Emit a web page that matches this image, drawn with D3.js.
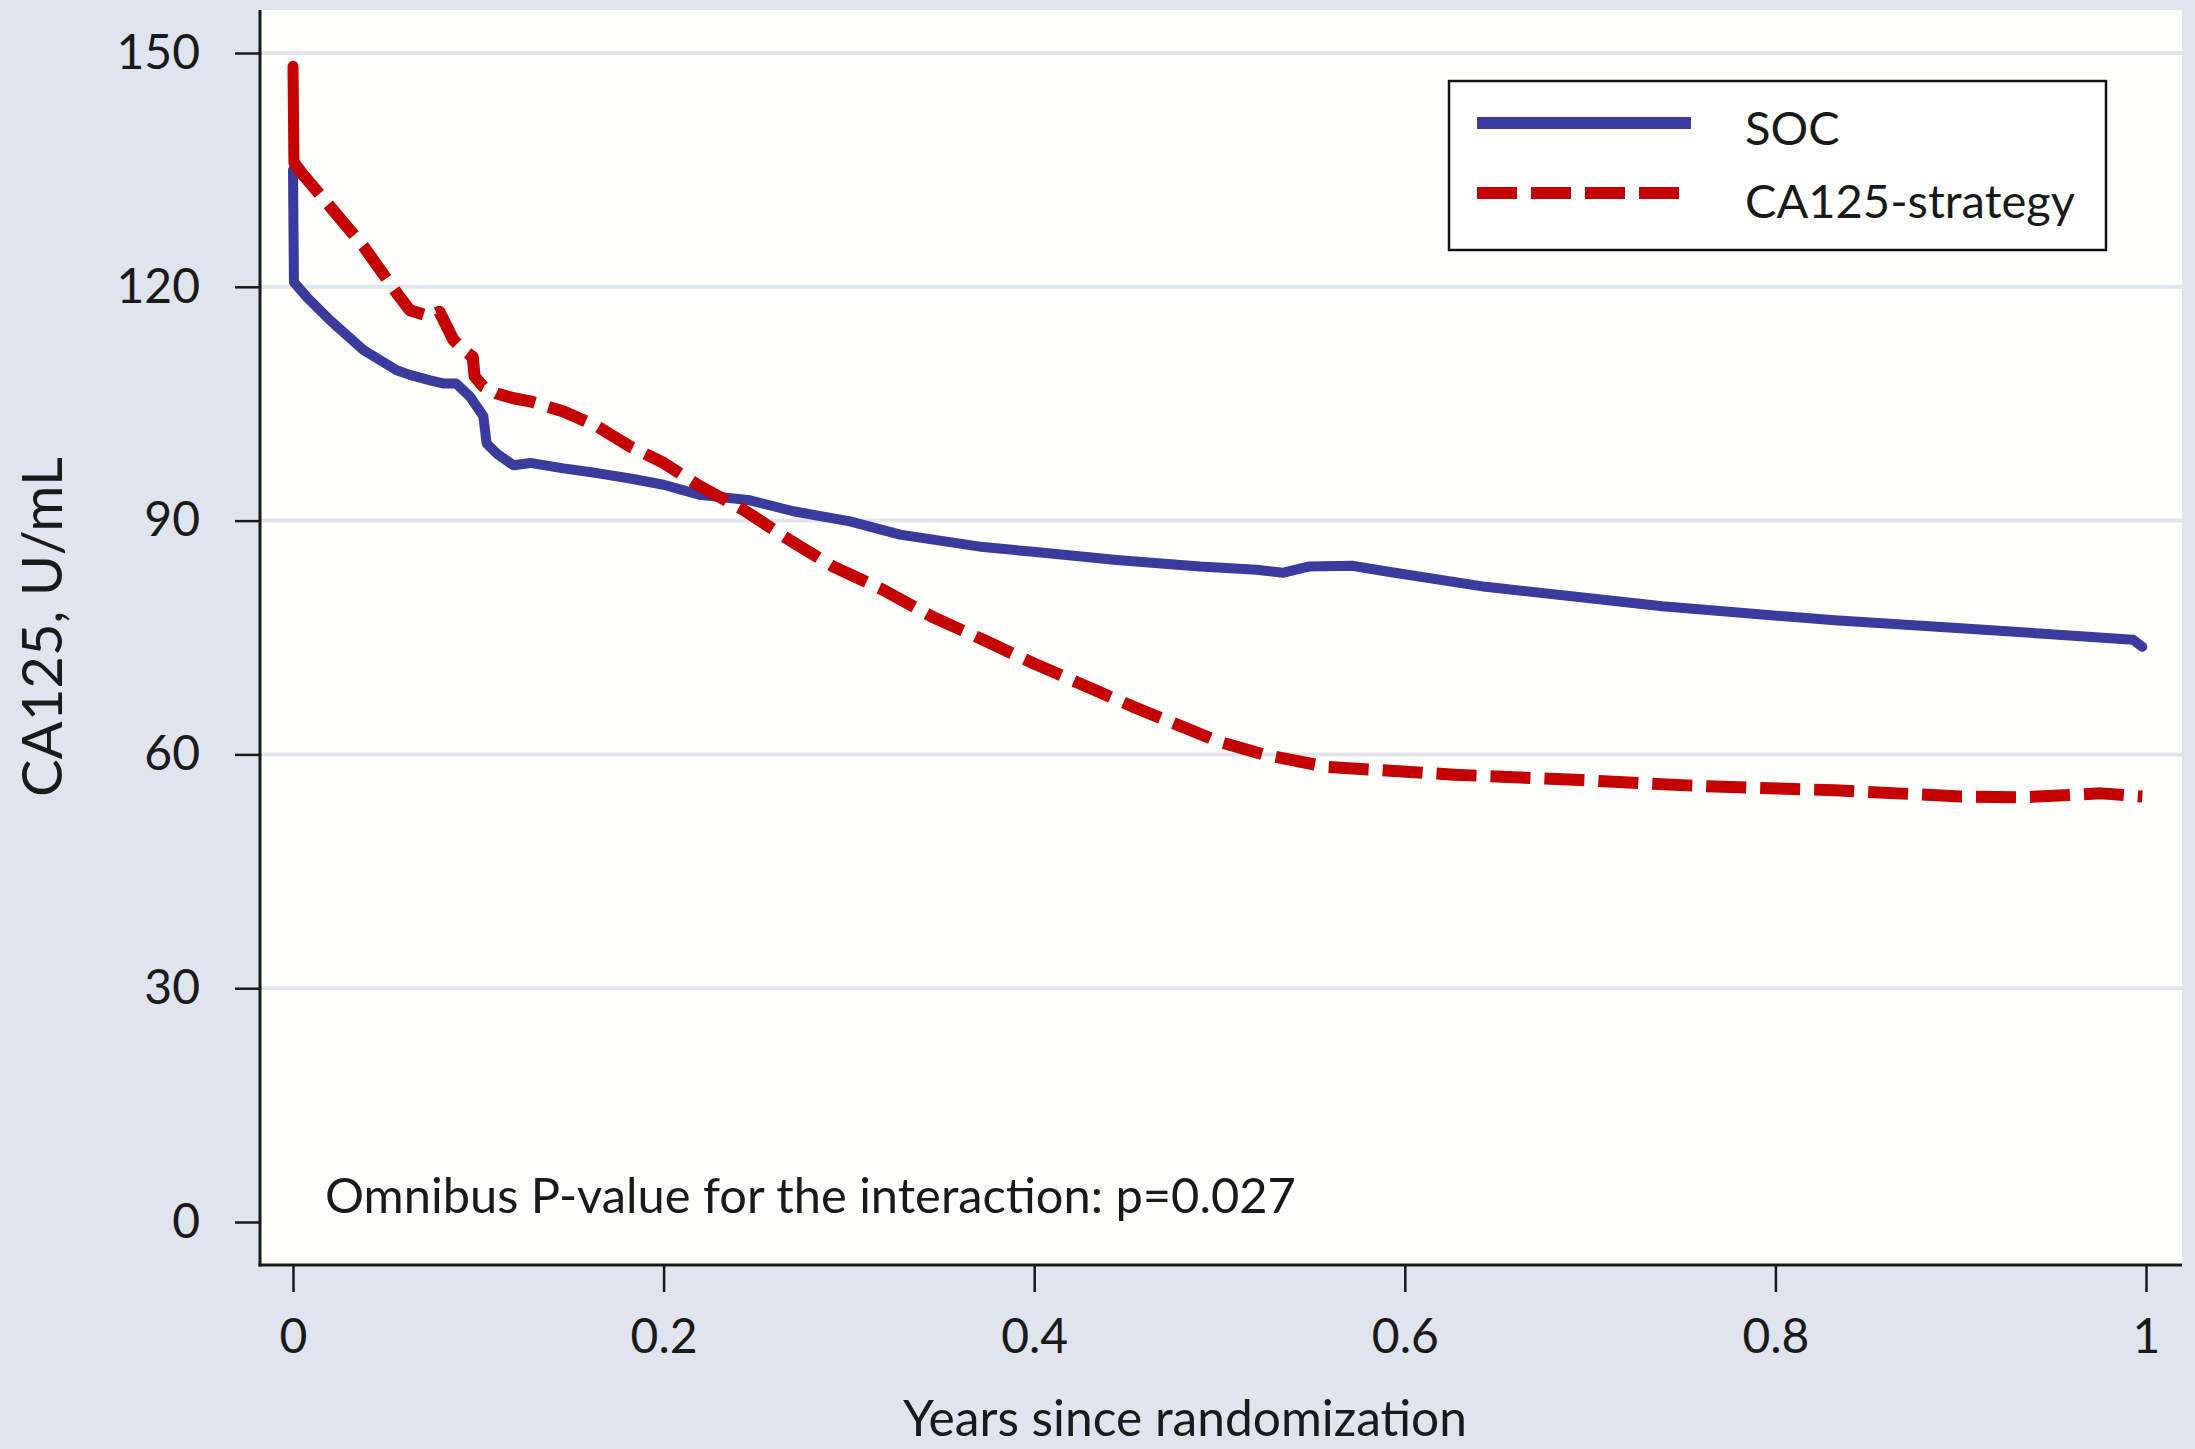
<!DOCTYPE html>
<html>
<head>
<meta charset="utf-8">
<script src="https://cdn.jsdelivr.net/npm/d3@7"></script>
<style>
  html, body { margin: 0; padding: 0; background: #dfe4ef; }
  svg { display: block; }
  text { font-family: Lato, "Open Sans", sans-serif; fill: #1a1a1a; }
</style>
</head>
<body>
<svg id="chart" width="2195" height="1449"></svg>
<script>
// ---------------- data ----------------
const seriesNames = ["SOC", "CA125-strategy"];
const socYears = [0, 0.0005, 0.0074, 0.020, 0.038, 0.056, 0.063, 0.074, 0.081, 0.088, 0.0955, 0.1027, 0.1045, 0.110, 0.119, 0.128, 0.146, 0.164, 0.182, 0.200, 0.2196, 0.2466, 0.270, 0.3006, 0.3276, 0.3725, 0.3995, 0.4445, 0.4895, 0.520, 0.534, 0.548, 0.5715, 0.592, 0.6436, 0.739, 0.832, 0.900, 0.9687, 0.993, 0.998];
const socValues = [135.0, 120.6, 118.7, 115.7, 111.9, 109.3, 108.7, 108.0, 107.6, 107.6, 105.9, 103.4, 99.9, 98.6, 97.1, 97.4, 96.7, 96.1, 95.4, 94.6, 93.3, 92.6, 91.2, 89.9, 88.2, 86.6, 86.0, 84.95, 84.1, 83.7, 83.3, 84.1, 84.2, 83.4, 81.5, 79.0, 77.2, 76.2, 75.1, 74.7, 73.8];
const caYears = [0, 0.0005, 0.0047, 0.020, 0.038, 0.056, 0.063, 0.074, 0.079, 0.083, 0.0865, 0.092, 0.097, 0.098, 0.1027, 0.110, 0.119, 0.128, 0.146, 0.164, 0.182, 0.200, 0.2196, 0.243, 0.268, 0.2916, 0.3186, 0.3455, 0.3725, 0.3995, 0.4265, 0.4535, 0.4805, 0.500, 0.5237, 0.558, 0.6266, 0.695, 0.763, 0.832, 0.900, 0.934, 0.9757, 0.998];
const caValues = [148.3, 135.9, 134.6, 130.3, 125.2, 119.2, 117.0, 116.2, 116.8, 114.9, 113.2, 111.9, 111.0, 108.5, 107.2, 106.3, 105.7, 105.3, 104.0, 102.1, 99.5, 97.4, 94.4, 91.4, 87.5, 84.1, 81.1, 77.6, 74.7, 71.7, 68.9, 66.1, 63.5, 61.6, 60.0, 58.4, 57.4, 56.7, 55.9, 55.4, 54.6, 54.5, 55.0, 54.6];
const yTicks = [0, 30, 60, 90, 120, 150];
const xTicks = [0, 0.2, 0.4, 0.6, 0.8, 1];
const xTickLabels = ["0", "0.2", "0.4", "0.6", "0.8", "1"];
const yTitle = "CA125, U/mL";
const xTitle = "Years since randomization";
const annotation = "Omnibus P-value for the interaction: p=0.027";

// ---------------- layout ----------------
const W = 2195, H = 1449;
const plot = { left: 260, right: 2182, top: 10, bottom: 1265 };
const colors = { soc: "#3a3b9c", ca: "#c40000", grid: "#e2e5ee", bg: "#dfe4ef", axis: "#1a1a1a" };

const svg = d3.select("#chart");
const x = d3.scaleLinear().domain([0, 1]).range([293, 2146]);
const y = d3.scaleLinear().domain([0, 150]).range([1222, 53]);

function fit(sel, target) {
  const node = sel.node();
  const fs = parseFloat(sel.attr("font-size"));
  const w = node.getComputedTextLength();
  if (w > 0) sel.attr("font-size", (fs * target / w).toFixed(2));
  return sel;
}

svg.append("rect").attr("width", W).attr("height", H).attr("fill", colors.bg);
svg.append("rect")
  .attr("x", plot.left).attr("y", plot.top)
  .attr("width", plot.right - plot.left).attr("height", plot.bottom - plot.top)
  .attr("fill", "#fffffd");

// gridlines
svg.append("g").selectAll("line").data(yTicks.filter(d => d > 0)).join("line")
  .attr("x1", plot.left).attr("x2", plot.right)
  .attr("y1", d => y(d)).attr("y2", d => y(d))
  .attr("stroke", colors.grid).attr("stroke-width", 4);

// y axis
const gy = svg.append("g").attr("transform", `translate(${plot.left},0)`)
  .call(d3.axisLeft(y).tickValues(yTicks).tickSize(25).tickPadding(35));
gy.select(".domain").remove();
gy.selectAll(".tick line").attr("stroke", colors.axis).attr("stroke-width", 2.5);
gy.selectAll(".tick text").attr("font-size", 48).attr("fill", colors.axis)
  .style("font-family", "Lato, 'Open Sans', sans-serif");

// x axis
const gx = svg.append("g").attr("transform", `translate(0,${plot.bottom})`)
  .call(d3.axisBottom(x).tickValues(xTicks).tickFormat((d, i) => xTickLabels[i]).tickSize(27).tickPadding(27));
gx.select(".domain").remove();
gx.selectAll(".tick line").attr("stroke", colors.axis).attr("stroke-width", 2.5);
gx.selectAll(".tick text").attr("font-size", 48).attr("fill", colors.axis)
  .style("font-family", "Lato, 'Open Sans', sans-serif");

// axis lines
svg.append("line").attr("x1", plot.left).attr("x2", plot.left)
  .attr("y1", plot.top).attr("y2", plot.bottom + 1.5)
  .attr("stroke", colors.axis).attr("stroke-width", 3);
svg.append("line").attr("x1", plot.left - 1.5).attr("x2", plot.right)
  .attr("y1", plot.bottom).attr("y2", plot.bottom)
  .attr("stroke", colors.axis).attr("stroke-width", 3);

// lines
const line = d3.line().x(d => x(d[0])).y(d => y(d[1]));
const socData = socYears.map((t, i) => [t, socValues[i]]);
const caData = caYears.map((t, i) => [t, caValues[i]]);

svg.append("path").datum(socData).attr("d", line)
  .attr("fill", "none").attr("stroke", colors.soc).attr("stroke-width", 10)
  .attr("stroke-linejoin", "round").attr("stroke-linecap", "round");

// initial jump drawn solid, rest dashed
svg.append("path").datum(caData.slice(0, 2)).attr("d", line)
  .attr("fill", "none").attr("stroke", colors.ca).attr("stroke-width", 11)
  .attr("stroke-linecap", "round");
svg.append("path").datum(caData.slice(1)).attr("d", line)
  .attr("fill", "none").attr("stroke", colors.ca).attr("stroke-width", 12)
  .attr("stroke-dasharray", "40,14").attr("stroke-linejoin", "round");

// annotation
fit(svg.append("text").attr("x", 325).attr("y", 1213).attr("font-size", 48).text(annotation), 971);

// axis titles
fit(svg.append("text").attr("transform", "translate(62,627) rotate(-90)")
  .attr("text-anchor", "middle").attr("font-size", 57).text(yTitle), 340);
fit(svg.append("text").attr("x", 1185).attr("y", 1436)
  .attr("text-anchor", "middle").attr("font-size", 46).text(xTitle), 564);

// legend
const lg = svg.append("g");
lg.append("rect").attr("x", 1449).attr("y", 81).attr("width", 657).attr("height", 169)
  .attr("fill", "#ffffff").attr("stroke", "#111").attr("stroke-width", 2.5);
const legendItems = [
  { name: seriesNames[0], color: colors.soc, dash: null, ly: 123, ty: 145 },
  { name: seriesNames[1], color: colors.ca, dash: "40,14", ly: 193, ty: 218 }
];
legendItems.forEach(it => {
  lg.append("line").attr("x1", 1477).attr("x2", 1691).attr("y1", it.ly).attr("y2", it.ly)
    .attr("stroke", it.color).attr("stroke-width", 12)
    .attr("stroke-dasharray", it.dash);
});
const t1 = lg.append("text").attr("x", 1745).attr("y", 145).attr("font-size", 44).text(legendItems[0].name);
const t2 = lg.append("text").attr("x", 1745).attr("y", 218).attr("font-size", 44).text(legendItems[1].name);
fit(t2, 330);
t1.attr("font-size", t2.attr("font-size"));
</script>
</body>
</html>
